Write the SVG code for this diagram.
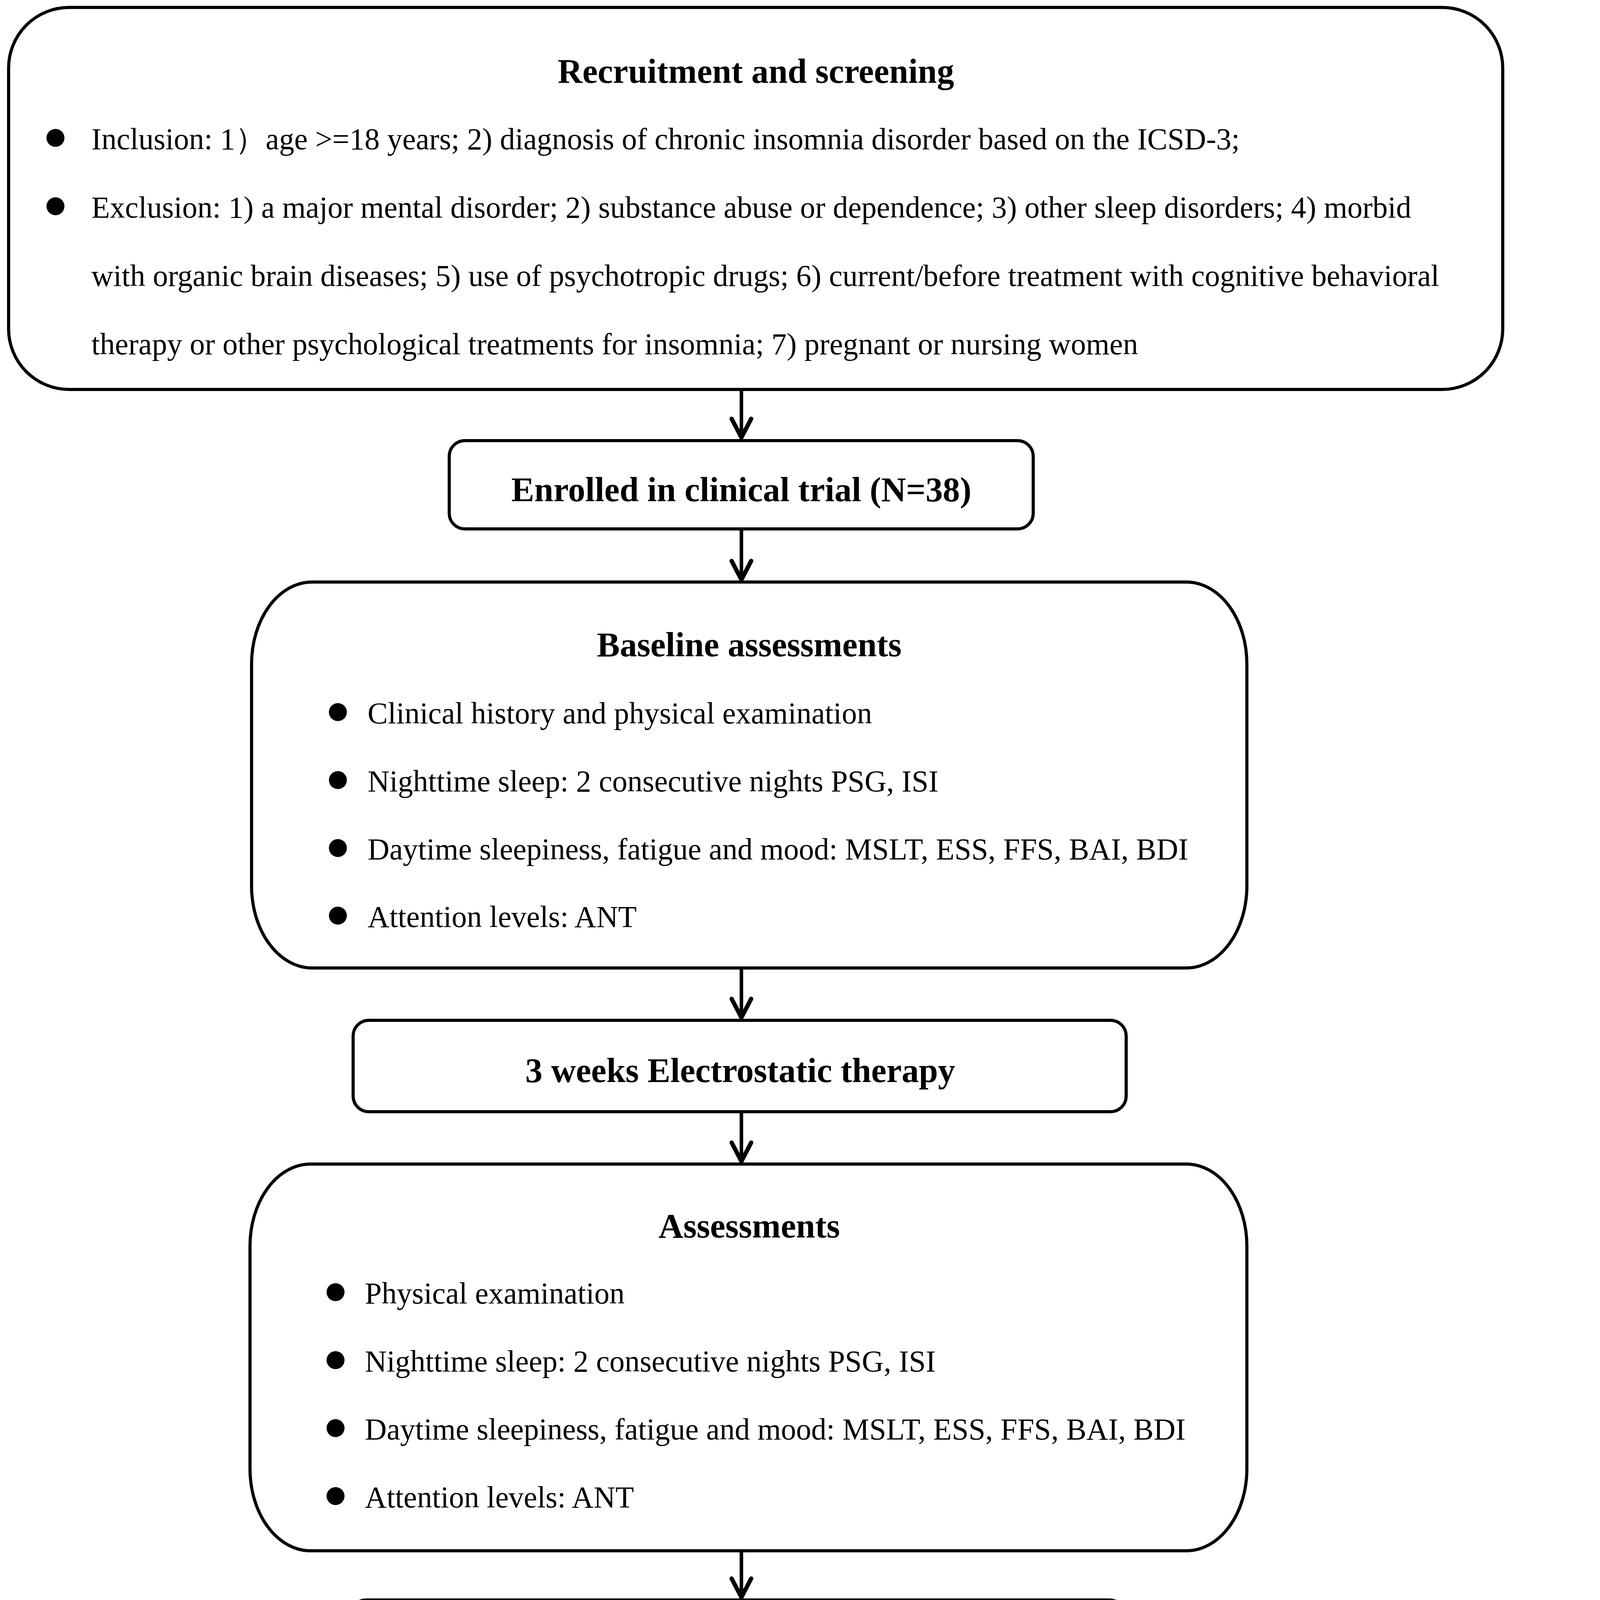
<svg xmlns="http://www.w3.org/2000/svg" width="4130" height="5830" viewBox="0 0 4130 5830">
<style>
.box{fill:#fff;stroke:#000;stroke-width:8}
.t{font-family:"Liberation Serif","Times New Roman",serif;font-size:77.5px;fill:#000}
.h{font-family:"Liberation Serif","Times New Roman",serif;font-size:88px;font-weight:bold;fill:#000;text-anchor:middle}
.s{font-family:"Liberation Serif","Times New Roman",serif;font-size:77.5px;fill:#000}
.b{fill:#000}
.ln{stroke:#000;stroke-width:9;fill:none}
.br{stroke:#000;stroke-width:13;fill:none}
</style>
<defs>
<marker id="av" markerUnits="userSpaceOnUse" markerWidth="80" markerHeight="80" viewBox="-60 -40 80 80" refX="0" refY="0" orient="auto">
<path d="M-48,-25 L0,0 L-48,25" fill="none" stroke="#000" stroke-width="11" stroke-linecap="round" stroke-linejoin="round"/>
</marker>
<marker id="ah" markerUnits="userSpaceOnUse" markerWidth="80" markerHeight="80" viewBox="-60 -40 80 80" refX="0" refY="0" orient="auto">
<path d="M-48,-28 L0,0 L-48,28" fill="none" stroke="#000" stroke-width="14" stroke-linecap="round" stroke-linejoin="round"/>
</marker>
</defs>
<rect width="4130" height="5830" fill="#fff"/>
<g id="connectors">
<line class="ln" x1="1898" y1="997" x2="1898" y2="1120" marker-end="url(#av)"/>
<line class="ln" x1="1898" y1="1354" x2="1898" y2="1484" marker-end="url(#av)"/>
<line class="ln" x1="1898" y1="2478" x2="1898" y2="2605" marker-end="url(#av)"/>
<line class="ln" x1="1898" y1="2846" x2="1898" y2="2973" marker-end="url(#av)"/>
<line class="ln" x1="1898" y1="3970" x2="1898" y2="4089" marker-end="url(#av)"/>
<line class="ln" x1="1898" y1="4338" x2="1898" y2="4461" marker-end="url(#av)"/>
<line class="br" x1="1898" y1="4387" x2="3210" y2="4387" marker-end="url(#ah)"/>
<line class="ln" x1="1898" y1="5458" x2="1898" y2="5581" marker-end="url(#av)"/>
<line class="br" x1="1898" y1="5488" x2="3210" y2="5488" marker-end="url(#ah)"/>
</g>
<g id="recruitment">
<rect class="box" x="22" y="19" width="3825" height="978" rx="155" ry="155"/>
<text class="h" x="1935" y="212">Recruitment and screening</text>
<circle class="b" cx="142" cy="353" r="23"/>
<text class="t" x="234" y="382">Inclusion: 1）age &gt;=18 years; 2) diagnosis of chronic insomnia disorder based on the ICSD-3;</text>
<circle class="b" cx="142" cy="528" r="23"/>
<text class="t" x="234" y="557">Exclusion: 1) a major mental disorder; 2) substance abuse or dependence; 3) other sleep disorders; 4) morbid</text>
<text class="t" x="234" y="732">with organic brain diseases; 5) use of psychotropic drugs; 6) current/before treatment with cognitive behavioral</text>
<text class="t" x="234" y="907">therapy or other psychological treatments for insomnia; 7) pregnant or nursing women</text>
</g>
<g id="enrolled">
<rect class="box" x="1150" y="1128" width="1495" height="226" rx="40" ry="40"/>
<text class="h" x="1898" y="1283">Enrolled in clinical trial (N=38)</text>
</g>
<g id="baseline">
<rect class="box" x="644" y="1490" width="2548" height="988" rx="155" ry="210"/>
<text class="h" x="1918" y="1680">Baseline assessments</text>
<circle class="b" cx="865" cy="1823" r="23"/>
<text class="t" x="941" y="1852">Clinical history and physical examination</text>
<circle class="b" cx="865" cy="1997" r="23"/>
<text class="t" x="941" y="2026">Nighttime sleep: 2 consecutive nights PSG, ISI</text>
<circle class="b" cx="865" cy="2171" r="23"/>
<text class="t" x="941" y="2200">Daytime sleepiness, fatigue and mood: MSLT, ESS, FFS, BAI, BDI</text>
<circle class="b" cx="865" cy="2344" r="23"/>
<text class="t" x="941" y="2373">Attention levels: ANT</text>
</g>
<g id="therapy3">
<rect class="box" x="904" y="2612" width="1979" height="234" rx="40" ry="40"/>
<text class="h" x="1895" y="2770">3 weeks Electrostatic therapy</text>
</g>
<g id="assess1">
<rect class="box" x="640" y="2980" width="2552" height="990" rx="155" ry="210"/>
<text class="h" x="1918" y="3168">Assessments</text>
<circle class="b" cx="859" cy="3308" r="23"/>
<text class="t" x="934" y="3337">Physical examination</text>
<circle class="b" cx="859" cy="3482" r="23"/>
<text class="t" x="934" y="3511">Nighttime sleep: 2 consecutive nights PSG, ISI</text>
<circle class="b" cx="859" cy="3656" r="23"/>
<text class="t" x="934" y="3685">Daytime sleepiness, fatigue and mood: MSLT, ESS, FFS, BAI, BDI</text>
<circle class="b" cx="859" cy="3830" r="23"/>
<text class="t" x="934" y="3859">Attention levels: ANT</text>
</g>
<g id="therapy6">
<rect class="box" x="897" y="4096" width="1983" height="242" rx="40" ry="40"/>
<text class="h" x="1914" y="4250">6 weeks Electrostatic therapy</text>
</g>
<g id="dropout1">
<rect class="box" x="3226" y="4176" width="885" height="420" rx="70" ry="70"/>
<text class="s" x="3290" y="4332">7 participants failed to</text>
<text class="s" x="3290" y="4507">complete the last PSG</text>
</g>
<g id="assess2">
<rect class="box" x="636" y="4470" width="2567" height="988" rx="155" ry="210"/>
<text class="h" x="1920" y="4660">Assessments</text>
<circle class="b" cx="859" cy="4800" r="23"/>
<text class="t" x="930" y="4829">Physical examination</text>
<circle class="b" cx="859" cy="4974" r="23"/>
<text class="t" x="930" y="5003">Nighttime sleep: 2 consecutive nights PSG, ISI</text>
<circle class="b" cx="859" cy="5148" r="23"/>
<text class="t" x="930" y="5177">Daytime sleepiness, fatigue and mood: MSLT, ESS, FFS, BAI, BDI</text>
<circle class="b" cx="859" cy="5322" r="23"/>
<text class="t" x="930" y="5351">Attention levels: ANT</text>
</g>
<g id="dropout2">
<rect class="box" x="3222" y="5298" width="889" height="416" rx="70" ry="70"/>
<text class="s" x="3287" y="5452">1 participant’s PSG</text>
<text class="s" x="3287" y="5626">data was damaged.</text>
</g>
<g id="final">
<rect class="box" x="1321" y="5588" width="1146" height="227" rx="40" ry="40"/>
<text class="h" x="1894" y="5742">Final analysis (N=30)</text>
</g>
</svg>
